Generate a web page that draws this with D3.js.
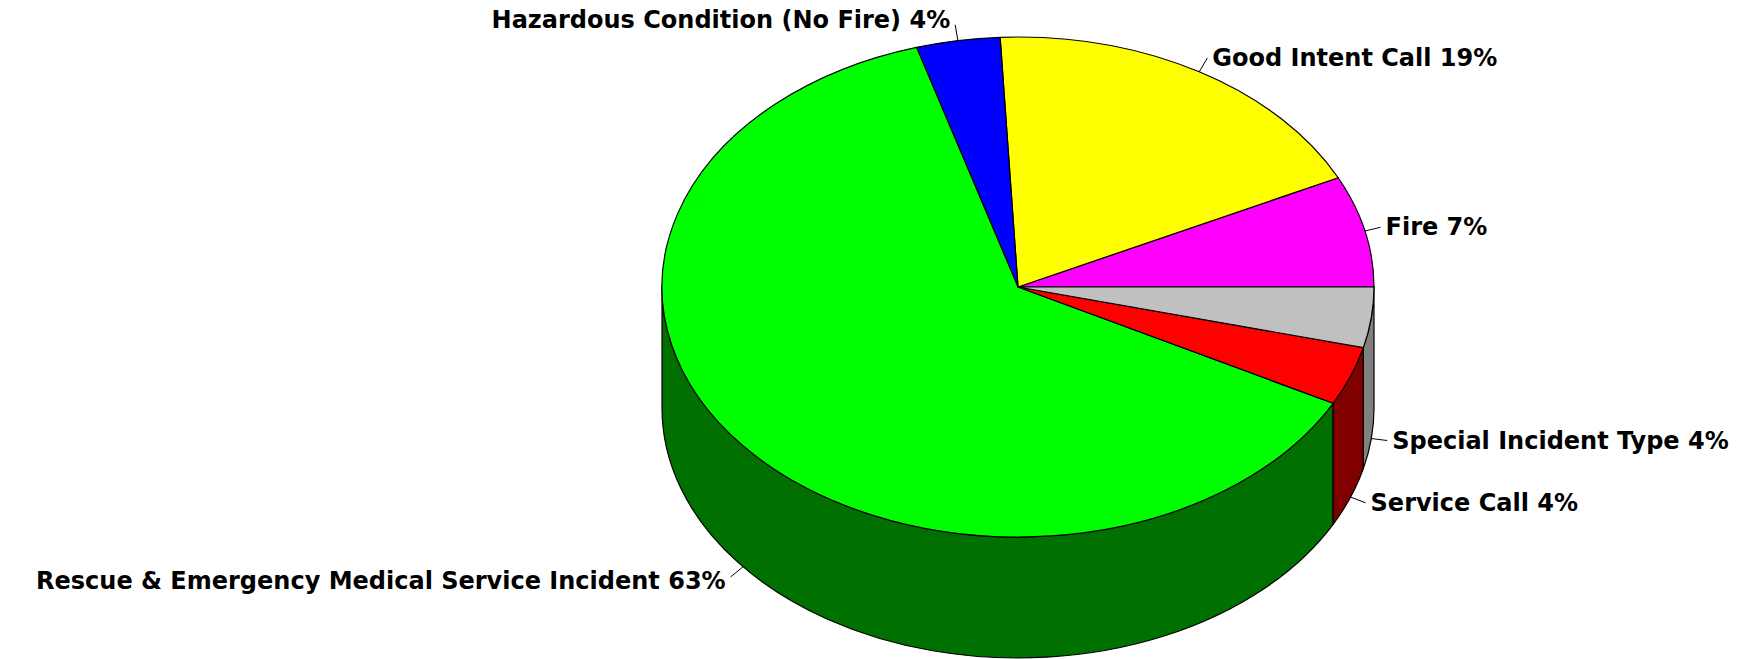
<!DOCTYPE html>
<html>
<head>
<meta charset="utf-8">
<script src="https://cdn.jsdelivr.net/npm/d3@7"></script>
<style>
  html, body { margin: 0; padding: 0; background: #ffffff; }
  svg { display: block; }
</style>
</head>
<body>
<svg id="chart" width="1752" height="659"></svg>
<script>
// ---- data ----
const categories = [
  "Fire",
  "Good Intent Call",
  "Hazardous Condition (No Fire)",
  "Rescue & Emergency Medical Service Incident",
  "Service Call",
  "Special Incident Type"
];
const values = [7.2, 18.6, 3.8, 62.7, 3.8, 3.9];

// ---- styles ----
const topColors  = ["#ff00ff", "#ffff00", "#0000ff", "#00ff00", "#ff0000", "#c0c0c0"];
const sideColors = ["#800080", "#808000", "#000080", "#007000", "#800000", "#808080"];

// ---- layout ----
const cx = 1018, cy = 287, rx = 356, ry = 250, depth = 121;

const svg = d3.select("#chart");
const total = d3.sum(values);
const pie = d3.pie().sort(null).value(d => d).startAngle(0).endAngle(2 * Math.PI);
const slices = pie(values).map((d, i) => ({ i, t0: d.startAngle, t1: d.endAngle, value: d.value }));

// angle t: counter-clockwise from 3 o'clock, on the ellipse
const px = t => cx + rx * Math.cos(t);
const py = (t, dz = 0) => cy - ry * Math.sin(t) + dz;

const g = svg.append("g");

// side walls (front half: t in [PI, 2PI])
slices.forEach(s => {
  const a = Math.max(s.t0, Math.PI), b = Math.min(s.t1, 2 * Math.PI);
  if (b <= a) return;
  const large = (b - a) > Math.PI ? 1 : 0;
  const d = `M${px(a)},${py(a)} A${rx},${ry} 0 ${large} 0 ${px(b)},${py(b)} ` +
            `L${px(b)},${py(b, depth)} A${rx},${ry} 0 ${large} 1 ${px(a)},${py(a, depth)} Z`;
  g.append("path")
    .attr("d", d)
    .attr("fill", sideColors[s.i])
    .attr("stroke", "#000")
    .attr("stroke-width", 1.2)
    .attr("stroke-linejoin", "round");
});

// top faces
slices.forEach(s => {
  const large = (s.t1 - s.t0) > Math.PI ? 1 : 0;
  const d = `M${cx},${cy} L${px(s.t0)},${py(s.t0)} ` +
            `A${rx},${ry} 0 ${large} 0 ${px(s.t1)},${py(s.t1)} Z`;
  g.append("path")
    .attr("d", d)
    .attr("fill", topColors[s.i])
    .attr("stroke", "#000")
    .attr("stroke-width", 1.2)
    .attr("stroke-linejoin", "round");
});

// labels with leaders
const lg = svg.append("g");
slices.forEach(s => {
  const t = (s.t0 + s.t1) / 2;
  const front = Math.sin(t) < 0;
  const ax = px(t), ay = py(t, front ? depth : 0);
  const ux = Math.cos(t), uy = -Math.sin(t);
  const len = 16;
  const ex = ax + ux * len, ey = ay + uy * len;
  lg.append("line")
    .attr("x1", ax).attr("y1", ay).attr("x2", ex).attr("y2", ey)
    .attr("stroke", "#000").attr("stroke-width", 1);
  const right = ux >= 0;
  const baseline = Math.sin(t) > 0.9 ? ey + 3 : ey + (front && !right ? 12 : 8);
  lg.append("text")
    .attr("x", right ? ex + 5 : ex - 5)
    .attr("y", baseline)
    .attr("text-anchor", right ? "start" : "end")
    .attr("font-family", "'DejaVu Sans', sans-serif")
    .attr("font-weight", "bold")
    .attr("font-size", 24)
    .attr("fill", "#000")
    .text(`${categories[s.i]} ${Math.round(s.value / total * 100)}%`);
});
</script>
</body>
</html>
